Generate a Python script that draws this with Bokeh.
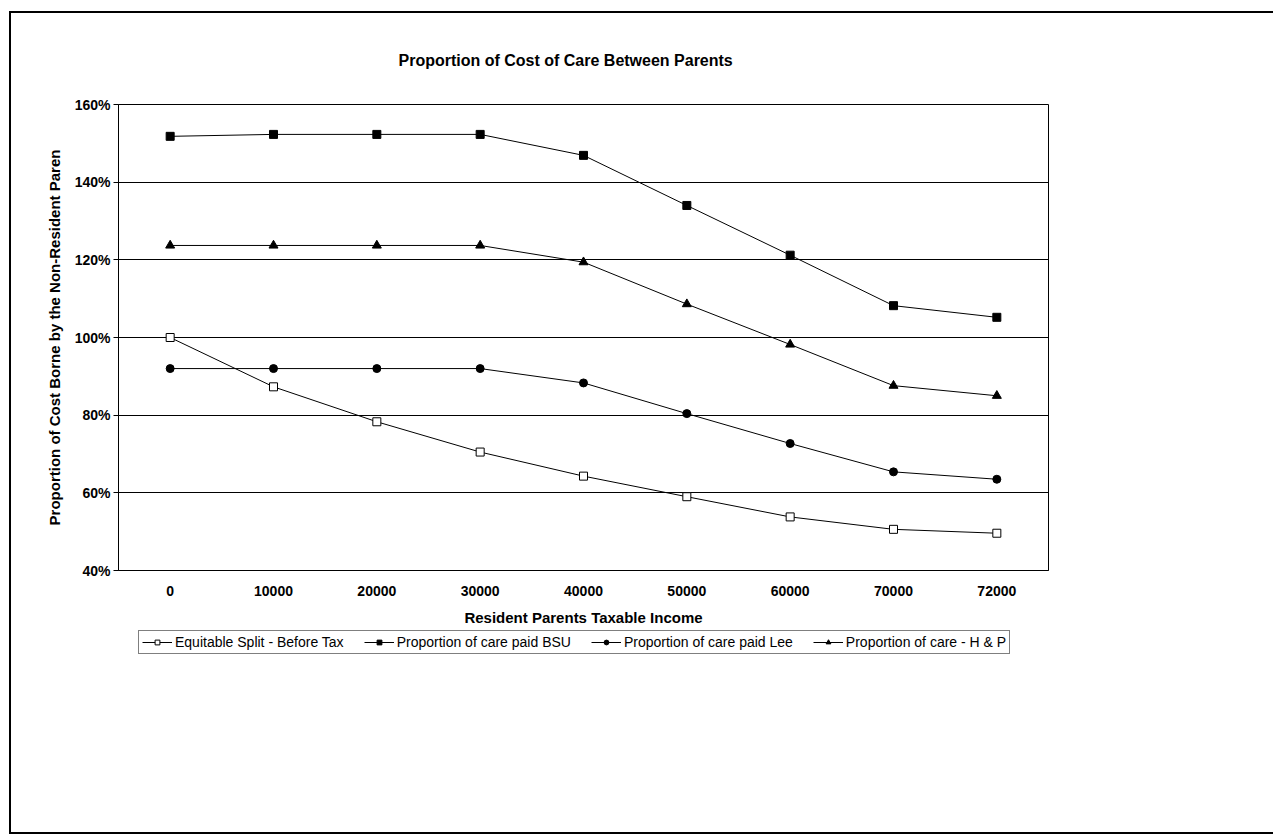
from bokeh.plotting import figure
from bokeh.layouts import column
from bokeh.models import (FactorRange, Range1d, FixedTicker, PrintfTickFormatter,
                          Legend, LegendItem, Title)
from bokeh.embed import file_html
from bokeh.resources import INLINE

categories = ["0", "10000", "20000", "30000", "40000", "50000", "60000", "70000", "72000"]
equitable = [100.0, 87.3, 78.3, 70.5, 64.3, 59.0, 53.8, 50.6, 49.6]
bsu = [151.8, 152.3, 152.3, 152.3, 146.9, 134.0, 121.2, 108.2, 105.2]
lee = [92.0, 92.0, 92.0, 92.0, 88.3, 80.4, 72.7, 65.4, 63.5]
hp = [123.7, 123.7, 123.7, 123.7, 119.4, 108.6, 98.2, 87.6, 85.0]
series_names = ["Equitable Split - Before Tax", "Proportion of care paid BSU",
                "Proportion of care paid Lee", "Proportion of care - H & P"]
y_ticks = [40, 60, 80, 100, 120, 140, 160]

FONT = "Liberation Sans"
W = 1262

p = figure(width=W, height=617, x_range=FactorRange(*categories, range_padding=0),
           y_range=Range1d(40, 160), output_backend="svg", toolbar_location=None,
           min_border_left=107, min_border_right=225, min_border_top=91, min_border_bottom=60)
p.background_fill_color = "white"
p.border_fill_color = "white"
p.outline_line_color = "black"
p.outline_line_width = 1

p.xgrid.visible = False
p.ygrid.grid_line_color = "black"
p.ygrid.grid_line_width = 1
p.ygrid.ticker = FixedTicker(ticks=y_ticks)

p.yaxis.ticker = FixedTicker(ticks=y_ticks)
p.yaxis.formatter = PrintfTickFormatter(format="%d%%")
p.yaxis.minor_tick_line_color = None
p.yaxis.major_tick_out = 5
p.yaxis.major_tick_in = 0
p.yaxis.major_label_standoff = 3
p.yaxis.axis_label = "Proportion of Cost Borne by the Non-Resident Paren"
p.yaxis.axis_label_standoff = 9

p.xaxis.major_tick_out = 0
p.xaxis.major_tick_in = 0
p.xaxis.major_label_standoff = 15
p.xaxis.axis_label = "Resident Parents Taxable Income"
p.xaxis.axis_label_standoff = 10

for ax in (p.xaxis[0], p.yaxis[0]):
    ax.axis_line_color = "black"
    ax.major_tick_line_color = "black"
    ax.major_label_text_font = FONT
    ax.major_label_text_font_style = "bold"
    ax.major_label_text_font_size = "14px"
    ax.major_label_text_color = "black"
    ax.axis_label_text_font = FONT
    ax.axis_label_text_font_style = "bold"
    ax.axis_label_text_font_size = "15px"
    ax.axis_label_text_color = "black"

p.add_layout(Title(text="Proportion of Cost of Care Between Parents", align="left",
                   offset=280, standoff=71, text_font=FONT, text_font_style="bold",
                   text_font_size="16px", text_color="black"), "above")

# legend strip below the chart (same series, drawn off-range so only the legend shows)
q = figure(width=W, height=202, x_range=FactorRange(*categories, range_padding=0),
           y_range=Range1d(1000, 1001), output_backend="svg", toolbar_location=None,
           x_axis_location=None, y_axis_location=None,
           min_border_left=0, min_border_right=0, min_border_top=0, min_border_bottom=0)
q.outline_line_color = None
q.xgrid.visible = False
q.ygrid.visible = False
q.background_fill_color = "white"
q.border_fill_color = "white"

items = []
specs = [
    (equitable, "square", "white", 8),
    (bsu, "square", "black", 8),
    (lee, "circle", "black", 8),
    (hp, "triangle", "black", 9),
]
for name, (vals, marker, fill, size) in zip(series_names, specs):
    for fig in (p, q):
        l = fig.line(categories, vals, line_color="black", line_width=1)
        s = fig.scatter(categories, vals, marker=marker, size=size, fill_color=fill,
                        line_color="black", line_width=1)
    items.append(LegendItem(label=name, renderers=[l, s]))

legend = Legend(items=items, orientation="horizontal", location=(20, 178))
legend.label_text_font = FONT
legend.label_text_font_size = "14px"
legend.label_text_color = "black"
legend.border_line_color = "black"
legend.border_line_width = 1
legend.background_fill_color = "white"
legend.glyph_width = 30
legend.glyph_height = 12
legend.label_standoff = 3
legend.spacing = 20
legend.padding = 3
legend.margin = 0
q.add_layout(legend, "center")

page = column(p, q, spacing=0, margin=(11, 0, 0, 9),
              styles={"border-left": "2px solid black", "border-top": "2px solid black",
                      "border-bottom": "2px solid black"})

open("out.html", "w").write(file_html(page, INLINE))
